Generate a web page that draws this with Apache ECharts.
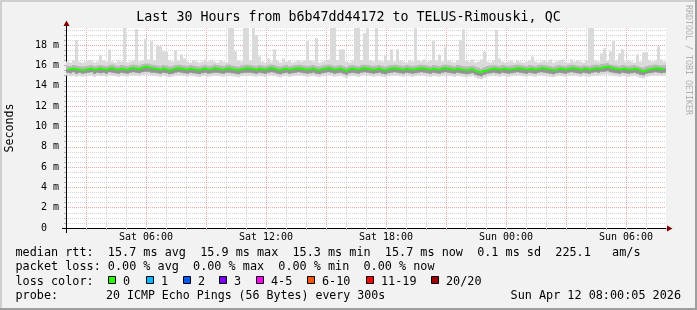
<!DOCTYPE html>
<html><head><meta charset="utf-8">
<script src="https://cdn.jsdelivr.net/npm/echarts@6/dist/echarts.min.js"></script>
<style>html,body{margin:0;padding:0;background:#f2f2f2}#c{width:697px;height:310px}</style>
</head><body><div id="c"></div>
<script>
// ---- data ----
const hoursSpan = 30; // Sat 02:00 -> Sun 08:00
const xTickHours = [4, 10, 16, 22, 28];
const xTickLabels = ['Sat 06:00', 'Sat 12:00', 'Sat 18:00', 'Sun 00:00', 'Sun 06:00'];
const yTickValues = [0, 2, 4, 6, 8, 10, 12, 14, 16, 18];
const yTickLabels = ['0\u00a0\u00a0', '2 m', '4 m', '6 m', '8 m', '10 m', '12 m', '14 m', '16 m', '18 m'];

// median rtt (ms), one value per 9 minutes
const med = [
15.6,15.65,15.7,15.65,15.6,15.55,15.6,15.65,15.7,15.6,15.65,15.7,15.65,15.6,15.7,15.75,15.65,15.6,15.7,15.65,
15.6,15.7,15.75,15.7,15.65,15.8,15.9,15.85,15.75,15.7,15.65,15.6,15.7,15.65,15.55,15.6,15.7,15.75,15.7,15.65,
15.6,15.7,15.65,15.6,15.55,15.65,15.7,15.6,15.65,15.75,15.7,15.65,15.6,15.7,15.75,15.65,15.6,15.55,15.65,15.7,
15.75,15.7,15.65,15.6,15.7,15.65,15.6,15.7,15.75,15.7,15.6,15.55,15.65,15.7,15.6,15.65,15.7,15.75,15.7,15.65,
15.6,15.65,15.7,15.6,15.55,15.65,15.7,15.75,15.7,15.6,15.65,15.7,15.6,15.5,15.65,15.7,15.65,15.6,15.7,15.75,
15.7,15.65,15.6,15.65,15.7,15.6,15.55,15.65,15.7,15.75,15.7,15.65,15.6,15.7,15.65,15.6,15.65,15.7,15.75,15.7,
15.65,15.6,15.7,15.65,15.6,15.7,15.75,15.7,15.65,15.6,15.7,15.65,15.6,15.55,15.6,15.65,15.5,15.4,15.3,15.5,
15.6,15.65,15.7,15.65,15.6,15.7,15.65,15.6,15.65,15.7,15.75,15.7,15.65,15.6,15.7,15.65,15.6,15.7,15.75,15.7,
15.65,15.6,15.55,15.65,15.7,15.65,15.6,15.7,15.75,15.7,15.65,15.6,15.7,15.65,15.6,15.7,15.75,15.7,15.8,15.85,
15.9,15.75,15.7,15.65,15.6,15.7,15.65,15.6,15.65,15.7,15.6,15.5,15.45,15.6,15.65,15.7,15.75,15.7,15.65,15.7];
// lower edge of the dense smoke
const lo = [
15.3,15.25,15.35,15.2,15.3,15.2,15.25,15.3,15.35,15.2,15.3,15.25,15.3,15.2,15.35,15.3,15.25,15.2,15.3,15.25,
15.2,15.3,15.35,15.3,15.25,15.35,15.4,15.4,15.3,15.3,15.25,15.2,15.3,15.25,15.15,15.2,15.3,15.35,15.3,15.25,
15.2,15.3,15.25,15.2,15.15,15.25,15.3,15.2,15.25,15.3,15.3,15.25,15.2,15.3,15.3,15.25,15.2,15.15,15.25,15.3,
15.3,15.3,15.25,15.2,15.3,15.25,15.2,15.3,15.35,15.3,15.2,15.15,15.25,15.3,15.2,15.25,15.3,15.35,15.3,15.25,
15.2,15.25,15.3,15.2,15.15,15.25,15.3,15.35,15.3,15.2,15.25,15.3,15.2,15.1,15.25,15.3,15.25,15.2,15.3,15.35,
15.3,15.25,15.2,15.25,15.3,15.2,15.15,15.25,15.3,15.35,15.3,15.25,15.2,15.3,15.25,15.2,15.25,15.3,15.35,15.3,
15.25,15.2,15.3,15.25,15.2,15.3,15.35,15.3,15.25,15.2,15.3,15.25,15.2,15.15,15.2,15.25,15.1,15.0,14.95,15.1,
15.2,15.25,15.3,15.25,15.2,15.3,15.25,15.2,15.25,15.3,15.35,15.3,15.25,15.2,15.3,15.25,15.2,15.3,15.35,15.3,
15.25,15.2,15.15,15.25,15.3,15.25,15.2,15.3,15.35,15.3,15.25,15.2,15.3,15.25,15.2,15.3,15.35,15.3,15.4,15.4,
15.45,15.35,15.3,15.25,15.2,15.3,15.25,15.2,15.25,15.3,15.2,15.1,15.05,15.2,15.25,15.3,15.35,15.3,15.25,15.3];
// upper edge of the dense smoke
const hi = [
16.0,15.95,16.05,16.0,15.95,15.9,15.95,16.0,16.05,15.95,16.0,16.05,16.0,15.95,16.05,16.1,16.0,15.95,16.05,16.0,
15.95,16.05,16.1,16.05,16.0,16.15,16.2,16.2,16.1,16.05,16.0,15.95,16.05,16.0,15.9,15.95,16.05,16.1,16.05,16.0,
15.95,16.05,16.0,15.95,15.9,16.0,16.05,15.95,16.0,16.1,16.05,16.0,15.95,16.05,16.1,16.0,15.95,15.9,16.0,16.05,
16.1,16.05,16.0,15.95,16.05,16.0,15.95,16.05,16.1,16.05,15.95,15.9,16.0,16.05,15.95,16.0,16.05,16.1,16.05,16.0,
15.95,16.0,16.05,15.95,15.9,16.0,16.05,16.1,16.05,15.95,16.0,16.05,15.95,15.85,16.0,16.05,16.0,15.95,16.05,16.1,
16.05,16.0,15.95,16.0,16.05,15.95,15.9,16.0,16.05,16.1,16.05,16.0,15.95,16.05,16.0,15.95,16.0,16.05,16.1,16.05,
16.0,15.95,16.05,16.0,15.95,16.05,16.1,16.05,16.0,15.95,16.05,16.0,15.95,15.9,15.95,16.0,15.9,15.8,15.7,15.85,
15.95,16.0,16.05,16.0,15.95,16.05,16.0,15.95,16.0,16.05,16.1,16.05,16.0,15.95,16.05,16.0,15.95,16.05,16.1,16.05,
16.0,15.95,15.9,16.0,16.05,16.0,15.95,16.05,16.1,16.05,16.0,15.95,16.05,16.0,15.95,16.05,16.1,16.05,16.15,16.2,
16.25,16.1,16.05,16.0,15.95,16.05,16.0,15.95,16.0,16.05,15.95,15.85,15.8,15.95,16.0,16.05,16.1,16.05,16.0,16.05];
// minimum ping
const mn = [
15.0,14.95,15.05,14.9,15.0,14.9,14.95,15.0,15.05,14.9,15.0,14.95,15.0,14.9,15.05,15.0,14.95,14.9,15.0,14.95,
14.9,15.0,15.05,15.0,14.95,15.05,15.1,15.1,15.0,15.0,14.95,14.9,15.0,14.95,14.85,14.9,15.0,15.05,15.0,14.95,
14.9,15.0,14.95,14.9,14.85,14.95,15.0,14.9,14.95,15.0,15.0,14.95,14.9,15.0,15.0,14.95,14.9,14.85,14.95,15.0,
15.0,15.0,14.95,14.9,15.0,14.95,14.9,15.0,15.05,15.0,14.9,14.85,14.95,15.0,14.9,14.95,15.0,15.05,15.0,14.95,
14.9,14.95,15.0,14.9,14.85,14.95,15.0,15.05,15.0,14.9,14.95,15.0,14.9,14.8,14.95,15.0,14.95,14.9,15.0,15.05,
15.0,14.95,14.9,14.95,15.0,14.9,14.85,14.95,15.0,15.05,15.0,14.95,14.9,15.0,14.95,14.9,14.95,15.0,15.05,15.0,
14.95,14.9,15.0,14.95,14.9,15.0,15.05,15.0,14.95,14.9,15.0,14.95,14.9,14.85,14.9,14.95,14.8,14.7,14.65,14.8,
14.9,14.95,15.0,14.95,14.9,15.0,14.95,14.9,14.95,15.0,15.05,15.0,14.95,14.9,15.0,14.95,14.9,15.0,15.05,15.0,
14.95,14.9,14.85,14.95,15.0,14.95,14.9,15.0,15.05,15.0,14.95,14.9,15.0,14.95,14.9,15.0,15.05,15.0,15.1,15.1,
15.15,15.05,15.0,14.95,14.9,15.0,14.95,14.9,14.95,15.0,14.9,14.8,14.75,14.9,14.95,15.0,15.05,15.0,14.95,15.0];
// maximum ping
const mx = [
16.4,16.3,16.5,18.5,16.4,16.3,16.4,16.5,16.5,16.3,16.4,17.0,16.5,16.4,17.6,16.4,16.3,16.5,16.4,19.7,
16.3,16.4,16.5,19.6,16.4,16.5,18.6,16.6,18.4,16.5,18.0,17.9,17.4,17.4,16.5,16.4,17.5,16.5,17.1,16.7,
16.4,16.3,16.5,16.4,16.3,16.4,16.6,16.4,16.5,16.4,16.3,16.5,16.4,16.3,19.7,19.7,17.4,16.5,16.4,19.7,
19.7,16.5,19.7,19.0,16.9,16.4,16.3,16.7,16.4,17.6,16.5,16.3,16.7,16.4,16.5,16.3,16.4,16.5,16.4,16.5,
18.4,16.5,16.4,18.7,16.3,16.4,16.5,16.6,19.7,19.7,16.5,17.6,17.6,16.4,16.3,16.5,19.7,19.7,16.5,19.2,
19.7,16.5,16.4,19.7,16.5,16.4,17.0,16.5,17.6,16.4,17.6,16.5,16.4,16.3,16.5,16.4,19.7,16.5,16.4,16.6,
16.4,16.5,18.4,16.5,17.1,16.4,17.8,16.5,16.4,16.3,16.5,18.5,19.6,16.5,16.4,16.6,16.3,16.4,16.6,17.4,
16.4,16.3,16.5,19.5,16.7,16.4,16.3,16.4,16.5,16.3,16.5,16.4,16.3,16.4,16.5,16.9,16.4,16.3,16.4,16.5,
16.4,16.6,16.3,16.4,16.5,16.6,16.4,16.3,16.6,16.4,16.5,16.4,16.3,16.5,19.7,19.7,16.5,16.4,17.2,17.7,
16.5,17.4,18.4,16.5,17.2,17.6,16.4,16.5,16.4,16.3,17.1,16.4,17.3,17.3,16.5,16.4,16.5,17.9,16.6,16.4];

const lossLabels = ['0', '1', '2', '3', '4-5', '6-10', '11-19', '20/20'];
const lossColors = ['#26ff00', '#00b8ff', '#0059ff', '#7e00ff', '#ff00ff', '#ff5500', '#ff0000', '#a10000'];

const titleText = 'Last 30 Hours from b6b47dd44172 to TELUS-Rimouski, QC';
const rttRow = 'median rtt:  15.7 ms avg  15.9 ms max  15.3 ms min  15.7 ms now  0.1 ms sd  225.1   am/s';
const lossRow = 'packet loss: 0.00 % avg  0.00 % max  0.00 % min  0.00 % now';
const colorRow = 'loss color:';
const probeLabel = 'probe:';
const probeText = '20 ICMP Echo Pings (56 Bytes) every 300s';
const stampText = 'Sun Apr 12 08:00:05 2026';
const lossBoxX = [108, 146, 183, 219, 256, 307, 366, 431];

// ---- chart ----
const DT = hoursSpan / med.length;
const MONO = '"DejaVu Sans Mono", monospace';
const GRAY = '#d3d3d3', RED = '#e9a8a8';
const LF = 11.8;

function band(lower, upper, color) {
  return {
    type: 'custom', silent: true, z: 2,
    data: lower.map((v, i) => [(i + 0.5) * DT, v, upper[i]]),
    encode: { x: 0, y: [1, 2] },
    renderItem(params, api) {
      const t = api.value(0), a = api.value(1), b = api.value(2);
      const p0 = api.coord([t - DT / 2, b]), p1 = api.coord([t + DT / 2, a]);
      return { type: 'rect', shape: { x: p0[0], y: p0[1], width: p1[0] - p0[0], height: p1[1] - p0[1] }, style: { fill: color } };
    }
  };
}

const graphic = [];
function txt(s, x, y, size, align) {
  graphic.push({ type: 'text', x, y, silent: true, z: 100,
    style: { text: s, font: size + 'px ' + MONO, fill: '#000', align: align || 'left', verticalAlign: 'middle' } });
}
// frame
graphic.push({ type: 'rect', silent: true, z: 0, shape: { x: 0, y: 0, width: 697, height: 2 }, style: { fill: '#cfcfcf' } });
graphic.push({ type: 'rect', silent: true, z: 0, shape: { x: 0, y: 0, width: 2, height: 310 }, style: { fill: '#cfcfcf' } });
graphic.push({ type: 'rect', silent: true, z: 0, shape: { x: 0, y: 308, width: 697, height: 2 }, style: { fill: '#9e9e9e' } });
graphic.push({ type: 'rect', silent: true, z: 0, shape: { x: 695, y: 0, width: 2, height: 310 }, style: { fill: '#9e9e9e' } });
// title
graphic.push({ type: 'text', x: 348.5, y: 18, silent: true, style: { text: titleText, font: '13.3px ' + MONO, fill: '#000', align: 'center', verticalAlign: 'middle' } });
// axis title
graphic.push({ type: 'text', x: 10, y: 128, rotation: Math.PI / 2, silent: true, style: { text: 'Seconds', font: '11.6px ' + MONO, fill: '#000', align: 'center', verticalAlign: 'middle' } });
// watermark
graphic.push({ type: 'text', x: 688, y: 5, rotation: -Math.PI / 2, silent: true, style: { text: 'RRDTOOL / TOBI OETIKER', font: '8.3px ' + MONO, fill: '#b0b0b0', align: 'left', verticalAlign: 'middle' } });
// legend rows
txt(rttRow, 15.5, 253.2, LF);
txt(lossRow, 15.5, 267.4, LF);
txt(colorRow, 15.5, 281.6, LF);
lossLabels.forEach((s, i) => {
  graphic.push({ type: 'rect', silent: true, z: 100, shape: { x: lossBoxX[i] + 0.5, y: 276.5, width: 7, height: 7 }, style: { fill: lossColors[i], stroke: '#000', lineWidth: 1 } });
  txt(s, lossBoxX[i] + 15, 281.6, LF);
});
txt(probeLabel, 15.5, 295.8, LF);
txt(probeText, 106, 295.8, 11.6);
txt(stampText, 681, 295.8, LF, 'right');
// axis extensions and arrows
graphic.push({ type: 'line', silent: true, z: 50, shape: { x1: 62, y1: 228.5, x2: 66, y2: 228.5 }, style: { stroke: '#000', lineWidth: 1 } });
graphic.push({ type: 'line', silent: true, z: 50, shape: { x1: 66.5, y1: 228, x2: 66.5, y2: 233 }, style: { stroke: '#000', lineWidth: 1 } });
graphic.push({ type: 'line', silent: true, z: 50, shape: { x1: 66.5, y1: 28, x2: 66.5, y2: 25 }, style: { stroke: '#000', lineWidth: 1 } });
graphic.push({ type: 'polygon', silent: true, z: 50, shape: { points: [[66.5, 20.5], [63.5, 26], [69.5, 26]] }, style: { fill: '#7f0000' } });
graphic.push({ type: 'polygon', silent: true, z: 50, shape: { points: [[672.5, 228.5], [667, 225.5], [667, 231.5]] }, style: { fill: '#7f0000' } });

const chart = echarts.init(document.getElementById('c'), null, { renderer: 'canvas' });
chart.setOption({
  animation: false,
  backgroundColor: '#f2f2f2',
  grid: { left: 66, right: 31, top: 28, bottom: 82, show: true, backgroundColor: '#ffffff', borderWidth: 0, containLabel: false, outerBoundsMode: 'none' },
  xAxis: {
    type: 'value', min: 0, max: hoursSpan, interval: 1,
    axisLine: { show: true, lineStyle: { color: '#000', width: 1 } },
    axisTick: { show: true, length: 2, lineStyle: { color: '#b0b0b0' } },
    axisLabel: {
      show: true, margin: 9.5, verticalAlign: 'middle', fontFamily: MONO, fontSize: 10, color: '#000',
      showMinLabel: true, showMaxLabel: true,
      formatter: v => { const k = xTickHours.indexOf(Math.round(v)); return (k >= 0 && Math.abs(v - xTickHours[k]) < 1e-6) ? xTickLabels[k] : ''; }
    },
    splitLine: { show: true, showMaxLine: false, lineStyle: { color: [GRAY, RED, GRAY], width: 1, type: [1, 1] } }
  },
  yAxis: {
    type: 'value', min: 0, max: 19.7, interval: 0.5,
    axisLine: { show: true, lineStyle: { color: '#000', width: 1 } },
    axisTick: { show: true, length: 2, lineStyle: { color: '#b0b0b0' } },
    axisLabel: {
      show: true, margin: 7, fontFamily: MONO, fontSize: 10, color: '#000', showMaxLabel: false,
      formatter: v => { const k = yTickValues.indexOf(v); return k >= 0 ? yTickLabels[k] : ''; }
    },
    splitLine: { show: true, showMaxLine: false, lineStyle: { color: [RED, GRAY, GRAY, GRAY], width: 1, type: [1, 1] } }
  },
  series: [
    band(mn, mx, '#dadada'),
    band(lo, hi, '#b8b8b8'),
    band(lo, med, '#939393'),
    {
      type: 'line', silent: true, z: 5, step: 'middle', symbol: 'none',
      data: med.map((v, i) => [(i + 0.5) * DT, v]),
      lineStyle: { color: '#22ff00', width: 2 }
    }
  ],
  graphic: graphic
});
</script></body></html>
